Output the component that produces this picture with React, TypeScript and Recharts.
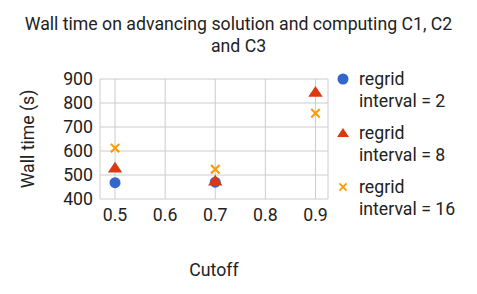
import { ScatterChart, Scatter, XAxis, YAxis, CartesianGrid } from "recharts";

const cutoffs = [0.5, 0.7, 0.9];
const regrid2 = [468, 470];
const regrid8 = [530, 476, 846];
const regrid16 = [612, 524, 757];
const xTicks = [0.5, 0.6, 0.7, 0.8, 0.9];
const yTicks = [400, 500, 600, 700, 800, 900];

const series = [
  { name: "regrid interval = 2", values: regrid2, color: "#3366cc", shape: "circle" },
  { name: "regrid interval = 8", values: regrid8, color: "#dc3912", shape: "triangle" },
  { name: "regrid interval = 16", values: regrid16, color: "#ff9900", shape: "x" },
];

const FONT = "Roboto, sans-serif";
const FS = 17.7;

function Marker({ cx, cy, shape, color, r }: any) {
  if (shape === "circle") return <circle cx={cx} cy={cy} r={r} fill={color} />;
  if (shape === "triangle") {
    const w = r * 1.2;
    return <path d={`M${cx},${cy - r} L${cx + w},${cy + r * 0.8} L${cx - w},${cy + r * 0.8} Z`} fill={color} />;
  }
  const a = r, t = r * 0.35;
  return (
    <g transform={`translate(${cx},${cy}) rotate(45)`}>
      <rect x={-a} y={-t / 2} width={a * 2} height={t} fill={color} />
      <rect x={-t / 2} y={-a} width={t} height={a * 2} fill={color} />
    </g>
  );
}

function LegendBox() {
  return (
    <div style={{ fontFamily: FONT, fontSize: FS, color: "#222" }}>
      {series.map((s) => (
        <div key={s.name} style={{ display: "flex", alignItems: "flex-start", marginBottom: 10 }}>
          <svg width={20} height={22} style={{ flex: "none" }}>
            <Marker cx={10} cy={11} shape={s.shape} color={s.color} r={s.shape === "circle" ? 5.5 : 5} />
          </svg>
          <div style={{ lineHeight: "22px", marginLeft: 6 }}>
            regrid
            <br />
            {s.name.replace("regrid ", "")}
          </div>
        </div>
      ))}
    </div>
  );
}

export default function App() {
  return (
    <div style={{ position: "absolute", left: 0, top: 0, width: 477, height: 294, background: "#fff" }}>
      <div
        style={{
          position: "absolute",
          left: 0,
          top: 13,
          width: 477,
          textAlign: "center",
          fontFamily: FONT,
          fontSize: FS,
          lineHeight: "22px",
          color: "#222",
        }}
      >
        Wall time on advancing solution and computing C1, C2
        <br />
        and C3
      </div>
      <div style={{ position: "absolute", left: 333, top: 68, width: 144 }}>
        <LegendBox />
      </div>
      <ScatterChart width={477} height={294} margin={{ top: 79, right: 149, bottom: 0, left: 0 }}>
        <CartesianGrid stroke="#cccccc" />
        <XAxis
          type="number"
          dataKey="x"
          domain={[0.47, 0.925]}
          ticks={xTicks}
          interval={0}
          height={95}
          axisLine={false}
          tickLine={false}
          tickSize={0}
          tickMargin={9}
          tick={{ fill: "#222", fontSize: FS, fontFamily: FONT }}
          label={{ value: "Cutoff", position: "insideBottom", offset: 18, fill: "#222", fontSize: FS, fontFamily: FONT }}
        />
        <YAxis
          type="number"
          dataKey="y"
          domain={[400, 900]}
          ticks={yTicks}
          interval={0}
          width={100}
          axisLine={false}
          tickLine={false}
          tickSize={0}
          tickMargin={7}
          tick={{ fill: "#222", fontSize: FS, fontFamily: FONT }}
          label={{
            value: "Wall time (s)",
            angle: -90,
            position: "insideLeft",
            offset: 28,
            style: { textAnchor: "middle" },
            fill: "#222",
            fontSize: FS,
            fontFamily: FONT,
          }}
        />
        {series.map((s) => (
          <Scatter
            key={s.name}
            name={s.name}
            data={s.values.map((v, i) => ({ x: cutoffs[i], y: v }))}
            fill={s.color}
            isAnimationActive={false}
            shape={(p: any) => <Marker cx={p.cx} cy={p.cy} shape={s.shape} color={s.color} r={s.shape === "circle" ? 5.5 : 6} />}
          />
        ))}
      </ScatterChart>
    </div>
  );
}
